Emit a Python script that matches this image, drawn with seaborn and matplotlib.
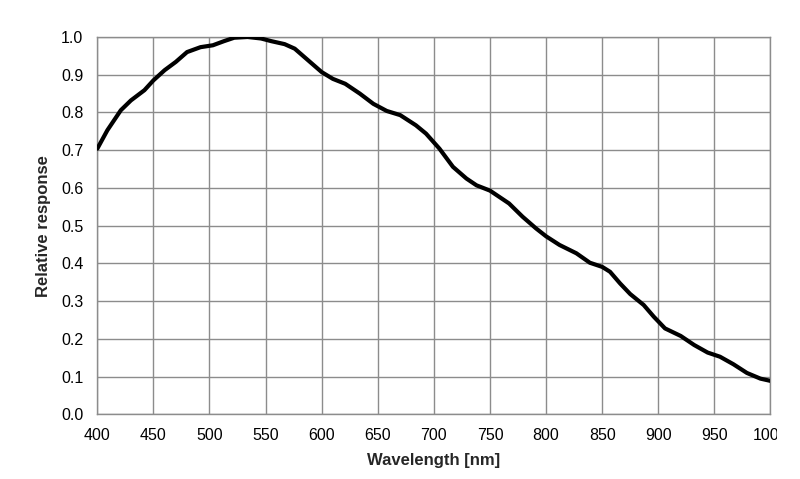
import matplotlib
matplotlib.use("Agg")
import matplotlib.pyplot as plt
import seaborn as sns
import pandas as pd
from matplotlib.patches import Rectangle

wavelength = [400, 409, 421, 430, 442, 450, 460, 470, 480, 492, 503, 513, 522, 534, 546, 555,
              567, 576, 588, 600, 610, 621, 634, 646, 658, 670, 684, 693, 705, 717, 729, 738,
              750, 767, 779, 791, 800, 812, 827, 839, 850, 857, 866, 875, 887, 896, 906, 920,
              932, 944, 955, 967, 979, 991, 1000]
response = [0.704, 0.753, 0.806, 0.832, 0.859, 0.885, 0.912, 0.934, 0.960, 0.973, 0.978, 0.989, 0.998, 1.0, 0.996, 0.989,
            0.981, 0.969, 0.938, 0.907, 0.889, 0.876, 0.850, 0.823, 0.804, 0.793, 0.766, 0.744, 0.704, 0.656, 0.625, 0.607,
            0.593, 0.559, 0.524, 0.493, 0.472, 0.449, 0.427, 0.402, 0.391, 0.378, 0.347, 0.319, 0.290, 0.259, 0.228, 0.208,
            0.184, 0.164, 0.153, 0.133, 0.110, 0.095, 0.089]
x_ticks = list(range(400, 1001, 50))
y_ticks = [round(0.1 * i, 1) for i in range(11)]

df = pd.DataFrame({"Wavelength": wavelength, "Response": response})

sns.set_style("white")
plt.rcParams["font.family"] = ["Liberation Sans", "DejaVu Sans"]

fig = plt.figure(figsize=(8, 4.79), dpi=100)
ax = fig.add_axes([0.1216, 0.1347, 0.9631 - 0.1216, 0.9228 - 0.1347])

grid_c = "#8c8c8c"
sns.lineplot(data=df, x="Wavelength", y="Response", ax=ax, color="black", linewidth=3.0,
             solid_joinstyle="round", solid_capstyle="round", zorder=5)

ax.set_xlim(400, 1000)
ax.set_ylim(0, 1.0)
ax.set_xticks(x_ticks)
ax.set_yticks(y_ticks)
ax.set_xticklabels([str(v) for v in x_ticks])
ax.set_yticklabels([f"{v:.1f}" for v in y_ticks])
ax.grid(True, color=grid_c, linewidth=1.0)
ax.set_axisbelow(True)
for s in ax.spines.values():
    s.set_color(grid_c)
    s.set_linewidth(1.0)
ax.tick_params(axis="both", which="major", length=4, width=1.0, color=grid_c,
               labelsize=11.5, labelcolor="black", pad=6, direction="out")
ax.set_xlabel("Wavelength [nm]", fontsize=12, fontweight="bold", labelpad=7)
ax.set_ylabel("Relative response", fontsize=12, fontweight="bold", labelpad=7)

# original image is cropped at the right edge
fig.patches.append(Rectangle((777 / 800, 0), 1 - 777 / 800, 1, transform=fig.transFigure,
                             facecolor="white", edgecolor="none", zorder=10))

fig.savefig("out.png", dpi=100)
